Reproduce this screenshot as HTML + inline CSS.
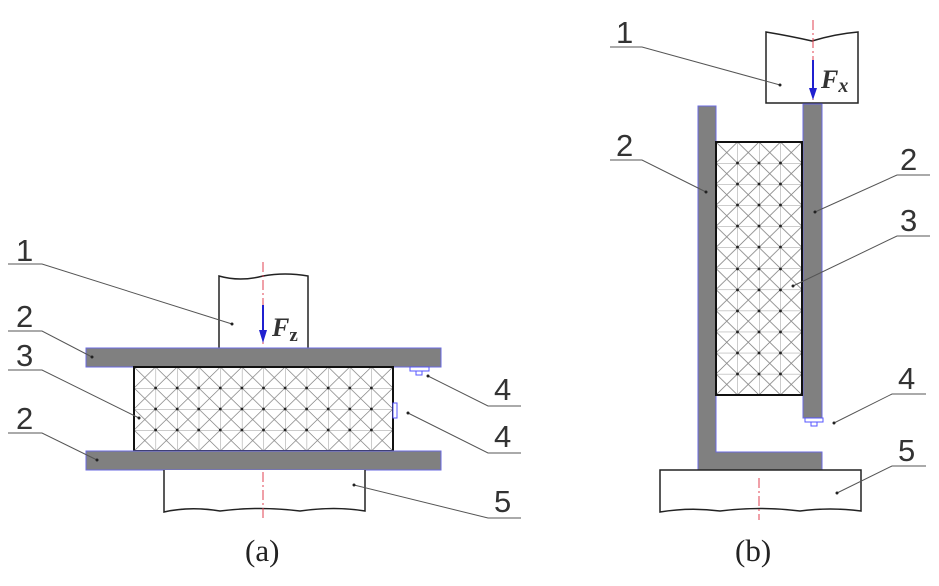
<!DOCTYPE html>
<html><head><meta charset="utf-8"><style>html,body{margin:0;padding:0;background:#fff}svg{display:block}</style></head>
<body>
<svg width="939" height="586" viewBox="0 0 939 586" xmlns="http://www.w3.org/2000/svg">
<defs>
<pattern id="ga" x="134" y="367" width="21.58" height="21" patternUnits="userSpaceOnUse">
<rect width="21.58" height="21" fill="#fff"/>
<path d="M0 0L21.58 21M21.58 0L0 21" stroke="#888" stroke-width="0.8"/>
<path d="M0 0H21.58M0 0V21" stroke="#999" stroke-width="1"/>
<circle cx="10.79" cy="10.5" r="0" fill="#222"/>
</pattern>
<pattern id="gb" x="716" y="142" width="21.5" height="21.08" patternUnits="userSpaceOnUse">
<rect width="21.5" height="21.08" fill="#fff"/>
<path d="M0 0L21.5 21.08M21.5 0L0 21.08" stroke="#888" stroke-width="0.8"/>
<path d="M0 0H21.5M0 0V21.08" stroke="#999" stroke-width="1"/>
</pattern>
</defs>
<g font-family="Liberation Sans, sans-serif" font-size="31" fill="#333">
<!-- (a) -->
<path d="M219 348V276Q240 282 263 276Q285 272 308 276V348" fill="#fff" stroke="#222" stroke-width="1.5"/>
<rect x="86" y="348" width="355" height="19" fill="#808080" stroke="#6a6ae0" stroke-width="1"/>
<rect x="134" y="367" width="259" height="84" fill="url(#ga)" stroke="#111" stroke-width="2"/>
<g fill="#222">
<circle cx="155.6" cy="388" r="1.4"/><circle cx="177.2" cy="388" r="1.4"/><circle cx="198.7" cy="388" r="1.4"/><circle cx="220.3" cy="388" r="1.4"/><circle cx="241.9" cy="388" r="1.4"/><circle cx="263.5" cy="388" r="1.4"/><circle cx="285.1" cy="388" r="1.4"/><circle cx="306.6" cy="388" r="1.4"/><circle cx="328.2" cy="388" r="1.4"/><circle cx="349.8" cy="388" r="1.4"/><circle cx="371.4" cy="388" r="1.4"/>
<circle cx="155.6" cy="409" r="1.4"/><circle cx="177.2" cy="409" r="1.4"/><circle cx="198.7" cy="409" r="1.4"/><circle cx="220.3" cy="409" r="1.4"/><circle cx="241.9" cy="409" r="1.4"/><circle cx="263.5" cy="409" r="1.4"/><circle cx="285.1" cy="409" r="1.4"/><circle cx="306.6" cy="409" r="1.4"/><circle cx="328.2" cy="409" r="1.4"/><circle cx="349.8" cy="409" r="1.4"/><circle cx="371.4" cy="409" r="1.4"/>
<circle cx="155.6" cy="430" r="1.4"/><circle cx="177.2" cy="430" r="1.4"/><circle cx="198.7" cy="430" r="1.4"/><circle cx="220.3" cy="430" r="1.4"/><circle cx="241.9" cy="430" r="1.4"/><circle cx="263.5" cy="430" r="1.4"/><circle cx="285.1" cy="430" r="1.4"/><circle cx="306.6" cy="430" r="1.4"/><circle cx="328.2" cy="430" r="1.4"/><circle cx="349.8" cy="430" r="1.4"/><circle cx="371.4" cy="430" r="1.4"/>
</g>
<rect x="86" y="451" width="355" height="19" fill="#808080" stroke="#6a6ae0" stroke-width="1"/>
<path d="M164 470V512Q190 506 220 511Q260 506 300 511Q335 506 365 511V470" fill="#fff" stroke="#222" stroke-width="1.5"/>
<rect x="410" y="367" width="19" height="4" fill="#fff" stroke="#55f"/>
<rect x="416" y="371" width="6" height="4" fill="#fff" stroke="#55f"/>
<rect x="393" y="403" width="4" height="15" fill="#fff" stroke="#55f"/>
<line x1="263" y1="262" x2="263" y2="346" stroke="#e04050" stroke-width="1" stroke-dasharray="10,3,2,3"/>
<line x1="263" y1="472" x2="263" y2="520" stroke="#e04050" stroke-width="1" stroke-dasharray="10,3,2,3"/>
<line x1="263" y1="305" x2="263" y2="333" stroke="#2020d0" stroke-width="2"/>
<path d="M259 330L263 343L267 330Z" fill="#2020d0"/>
<text x="272" y="336" font-family="Liberation Serif, serif" font-style="italic" font-weight="bold" font-size="26" fill="#333">F<tspan font-style="normal" font-size="19" dy="5">z</tspan></text>
<g stroke="#555" stroke-width="1" fill="none">
<path d="M8 264H42L232 324"/><path d="M8 331H42L92 357"/><path d="M8 370H42L139 418"/><path d="M8 433H42L97 460"/>
<path d="M521 406H488L428 376"/><path d="M521 453H488L408 413"/><path d="M521 518H488L354 485"/>
</g>
<g fill="#222"><circle cx="232" cy="324" r="1.5"/><circle cx="92" cy="357" r="1.5"/><circle cx="139" cy="418" r="1.5"/><circle cx="97" cy="460" r="1.5"/><circle cx="428" cy="376" r="1.5"/><circle cx="408" cy="413" r="1.5"/><circle cx="354" cy="485" r="1.5"/></g>
<text x="16" y="261">1</text><text x="16" y="327">2</text><text x="16" y="366">3</text><text x="16" y="429">2</text>
<text x="494" y="400">4</text><text x="494" y="447">4</text><text x="494" y="512">5</text>
<text x="245" y="561" font-family="Liberation Serif, serif" font-size="31" fill="#222">(a)</text>
<!-- (b) -->
<path d="M766 103V32Q790 36 812 41Q835 34 858 32V103Z" fill="#fff" stroke="#222" stroke-width="1.5"/>
<path d="M698 106H716V452H822V470H698Z" fill="#808080" stroke="#6a6ae0" stroke-width="1"/>
<rect x="803" y="104" width="19" height="314" fill="#808080" stroke="#6a6ae0" stroke-width="1"/>
<rect x="716" y="142" width="86" height="253" fill="url(#gb)" stroke="#111" stroke-width="2"/>
<g fill="#222">
<circle cx="737.5" cy="163" r="1.4"/><circle cx="759" cy="163" r="1.4"/><circle cx="780.5" cy="163" r="1.4"/>
<circle cx="737.5" cy="184" r="1.4"/><circle cx="759" cy="184" r="1.4"/><circle cx="780.5" cy="184" r="1.4"/>
<circle cx="737.5" cy="205" r="1.4"/><circle cx="759" cy="205" r="1.4"/><circle cx="780.5" cy="205" r="1.4"/>
<circle cx="737.5" cy="226" r="1.4"/><circle cx="759" cy="226" r="1.4"/><circle cx="780.5" cy="226" r="1.4"/>
<circle cx="737.5" cy="247" r="1.4"/><circle cx="759" cy="247" r="1.4"/><circle cx="780.5" cy="247" r="1.4"/>
<circle cx="737.5" cy="269" r="1.4"/><circle cx="759" cy="269" r="1.4"/><circle cx="780.5" cy="269" r="1.4"/>
<circle cx="737.5" cy="290" r="1.4"/><circle cx="759" cy="290" r="1.4"/><circle cx="780.5" cy="290" r="1.4"/>
<circle cx="737.5" cy="311" r="1.4"/><circle cx="759" cy="311" r="1.4"/><circle cx="780.5" cy="311" r="1.4"/>
<circle cx="737.5" cy="332" r="1.4"/><circle cx="759" cy="332" r="1.4"/><circle cx="780.5" cy="332" r="1.4"/>
<circle cx="737.5" cy="353" r="1.4"/><circle cx="759" cy="353" r="1.4"/><circle cx="780.5" cy="353" r="1.4"/>
<circle cx="737.5" cy="374" r="1.4"/><circle cx="759" cy="374" r="1.4"/><circle cx="780.5" cy="374" r="1.4"/>
</g>
<rect x="805" y="418" width="18" height="4" fill="#fff" stroke="#55f"/>
<rect x="811" y="422" width="6" height="4" fill="#fff" stroke="#55f"/>
<path d="M660 470V512Q690 507 720 511Q760 506 800 511Q830 507 861 511V470Z" fill="#fff" stroke="#222" stroke-width="1.5"/>
<line x1="813" y1="20" x2="813" y2="100" stroke="#e04050" stroke-width="1" stroke-dasharray="10,3,2,3"/>
<line x1="759" y1="478" x2="759" y2="520" stroke="#e04050" stroke-width="1" stroke-dasharray="10,3,2,3"/>
<line x1="813" y1="60" x2="813" y2="90" stroke="#2020d0" stroke-width="2"/>
<path d="M809 88L813 100L817 88Z" fill="#2020d0"/>
<text x="821" y="88" font-family="Liberation Serif, serif" font-style="italic" font-weight="bold" font-size="26" fill="#333">F<tspan font-size="20" dy="4">x</tspan></text>
<g stroke="#555" stroke-width="1" fill="none">
<path d="M610 47H642L780 85"/><path d="M610 160H642L706 192"/>
<path d="M930 175H897L815 212"/><path d="M930 236H897L793 286"/><path d="M926 394H892L834 423"/><path d="M926 466H892L837 493"/>
</g>
<g fill="#222"><circle cx="780" cy="85" r="1.5"/><circle cx="706" cy="192" r="1.5"/><circle cx="815" cy="212" r="1.5"/><circle cx="793" cy="286" r="1.5"/><circle cx="834" cy="423" r="1.5"/><circle cx="837" cy="493" r="1.5"/></g>
<text x="616" y="43">1</text><text x="616" y="156">2</text><text x="900" y="170">2</text><text x="900" y="231">3</text><text x="898" y="389">4</text><text x="898" y="461">5</text>
<text x="735" y="561" font-family="Liberation Serif, serif" font-size="31" fill="#222">(b)</text>
</g>
</svg>
</body></html>
